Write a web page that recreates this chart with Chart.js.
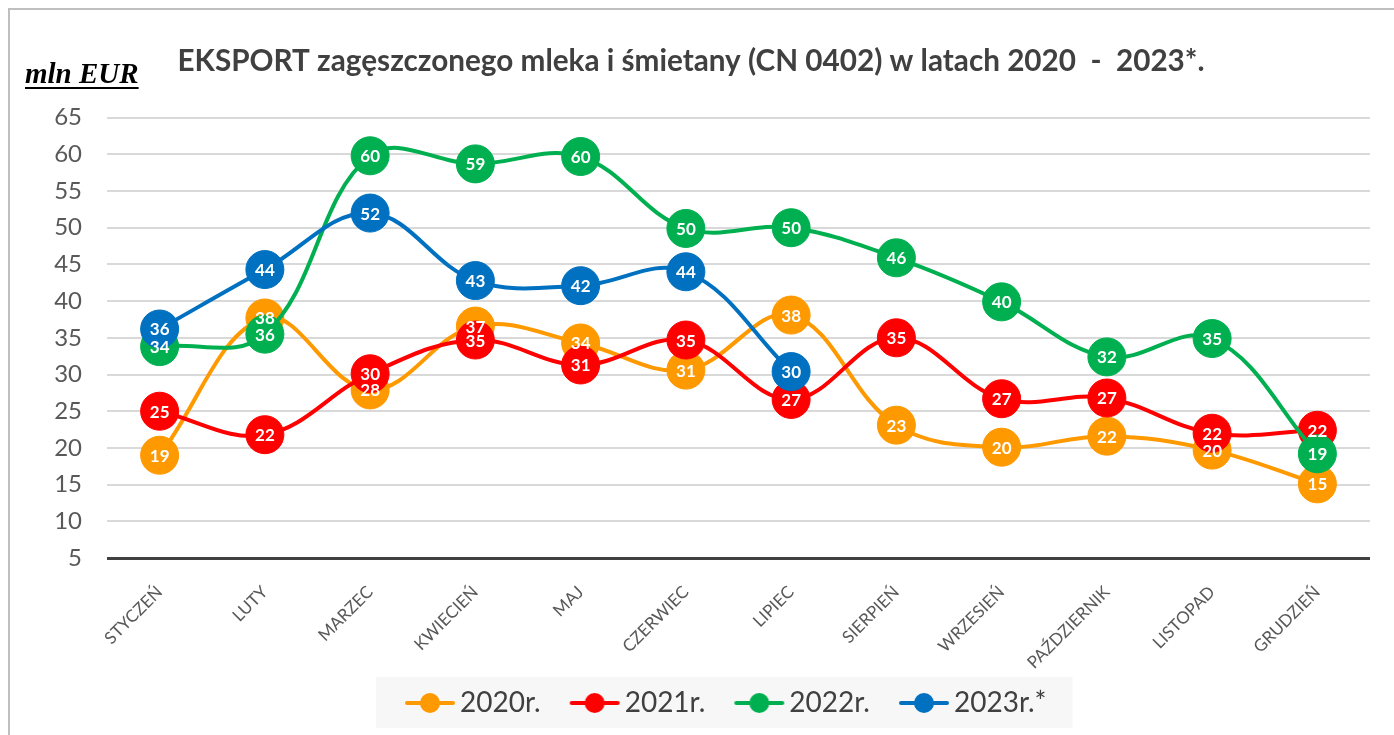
<!DOCTYPE html>
<html>
<head>
<meta charset="utf-8">
<script src="https://cdn.jsdelivr.net/npm/chart.js@4.4.1/dist/chart.umd.min.js"></script>
<style>
  html, body { margin: 0; padding: 0; background: #fff; }
  canvas { display: block; }
</style>
</head>
<body>
<canvas id="exportChart" width="1394" height="735"></canvas>
<script>
// months on the x axis
const months = ['STYCZEŃ', 'LUTY', 'MARZEC', 'KWIECIEŃ', 'MAJ', 'CZERWIEC', 'LIPIEC',
  'SIERPIEŃ', 'WRZESIEŃ', 'PAŹDZIERNIK', 'LISTOPAD', 'GRUDZIEŃ'];

// mln EUR
const exp2020 = [19.0, 37.7, 27.9, 36.6, 34.3, 30.6, 38.1, 23.1, 20.1, 21.6, 19.7, 15.1];
const exp2021 = [25.0, 21.8, 30.1, 34.7, 31.3, 34.7, 26.6, 35.0, 26.7, 26.8, 22.0, 22.4];
const exp2022 = [33.8, 35.5, 59.8, 58.7, 59.7, 49.9, 50.0, 45.9, 39.9, 32.4, 34.9, 19.2];
const exp2023 = [36.2, 44.3, 52.0, 42.8, 42.1, 44.0, 30.4, null, null, null, null, null];

const seriesNames = ['2020r.', '2021r.', '2022r.', '2023r.*'];
const seriesColors = ['#ff9900', '#ff0000', '#00b050', '#0070c0'];

const yMin = 5, yMax = 65, yStep = 5;

const FONT = 'Lato, "Open Sans", sans-serif';

// line + dot legend marker, drawn in the right part of a wider image
function legendMarker(color) {
  const c = document.createElement('canvas');
  c.width = 80; c.height = 22;
  const g = c.getContext('2d');
  g.strokeStyle = color;
  g.lineWidth = 4;
  g.lineCap = 'round';
  g.beginPath();
  g.moveTo(31, 11); g.lineTo(77, 11);
  g.stroke();
  g.fillStyle = color;
  g.beginPath();
  g.arc(54, 11, 10, 0, Math.PI * 2);
  g.fill();
  return c;
}

// white numbers inside the markers
const valueLabels = {
  id: 'valueLabels',
  afterDatasetsDraw(chart) {
    const ctx = chart.ctx;
    ctx.save();
    ctx.font = 'bold 17px ' + FONT;
    ctx.fillStyle = '#ffffff';
    ctx.textAlign = 'center';
    ctx.textBaseline = 'middle';
    chart.data.datasets.forEach((ds, i) => {
      chart.getDatasetMeta(i).data.forEach((pt, j) => {
        const v = ds.data[j];
        if (v == null) return;
        ctx.fillText(String(Math.round(v)), pt.x, pt.y + 1);
      });
    });
    ctx.restore();
  }
};

// frame, unit label and the grey legend panel
const decor = {
  id: 'decor',
  afterLayout(chart) {
    const lg = chart.legend;
    const pad = lg.options.labels.padding;
    const x0 = (lg.left + pad + lg.right - lg.lineWidths[0]) / 2;
    const shift = 386 - x0;
    lg.left += shift;
    lg.right += shift;
    chart.titleBlock.left += 6;
    chart.titleBlock.right += 6;
  },
  beforeDraw(chart) {
    const ctx = chart.ctx;
    ctx.save();
    ctx.fillStyle = '#ffffff';
    ctx.fillRect(0, 0, chart.width, chart.height);

    ctx.strokeStyle = '#bfbfbf';
    ctx.lineWidth = 2;
    ctx.beginPath();
    ctx.moveTo(9, chart.height);
    ctx.lineTo(9, 9);
    ctx.lineTo(chart.width, 9);
    ctx.stroke();

    // legend background
    const lg = chart.legend;
    const pad = lg.options.labels.padding;
    const lw = lg.lineWidths[0];
    const x0 = (lg.left + pad + lg.right - lw) / 2;
    ctx.fillStyle = '#f7f7f7';
    ctx.fillRect(x0 - 10, 677, lw + 26, 51);

    ctx.fillStyle = '#000000';
    ctx.font = 'italic bold 29px "Liberation Serif", serif';
    ctx.textBaseline = 'alphabetic';
    ctx.textAlign = 'left';
    ctx.fillText('mln EUR', 25, 83);
    const w = ctx.measureText('mln EUR').width;
    ctx.fillRect(25, 87, w, 2);
    ctx.restore();
  }
};

const ctx = document.getElementById('exportChart').getContext('2d');
const exportChart = new Chart(ctx, {
  type: 'line',
  data: {
    labels: months,
    datasets: [exp2020, exp2021, exp2022, exp2023].map((d, i) => ({
      label: seriesNames[i],
      data: d,
      borderColor: seriesColors[i],
      backgroundColor: seriesColors[i],
      pointBackgroundColor: seriesColors[i],
      pointBorderColor: seriesColors[i],
      borderWidth: 4,
      pointStyle: 'circle',
      pointRadius: 19,
      pointHoverRadius: 19,
      pointBorderWidth: 1,
      tension: 0.38,
      order: 4 - i,
      spanGaps: false
    }))
  },
  options: {
    responsive: false,
    animation: false,
    devicePixelRatio: 1,
    layout: { padding: { left: 0, right: 24, top: 0, bottom: 8 } },
    plugins: {
      title: {
        display: true,
        text: 'EKSPORT zagęszczonego mleka i śmietany (CN 0402) w latach 2020  -  2023*.',
        color: '#404040',
        font: { family: FONT, size: 29.7, weight: 'bold' },
        padding: { top: 44, bottom: 38 }
      },
      legend: {
        position: 'bottom',
        sort: (a, b) => a.datasetIndex - b.datasetIndex,
        labels: {
          usePointStyle: true,
          pointStyleWidth: 60,
          padding: 10,
          color: '#404040',
          font: { family: FONT, size: 28 },
          generateLabels(chart) {
            return chart.data.datasets.map((ds, i) => ({
              text: ds.label,
              datasetIndex: i,
              pointStyle: legendMarker(seriesColors[i]),
              fillStyle: seriesColors[i],
              strokeStyle: seriesColors[i],
              fontColor: '#404040',
              lineWidth: 0,
              hidden: false
            }));
          }
        }
      },
      tooltip: { enabled: false }
    },
    scales: {
      x: {
        offset: true,
        grid: { display: false },
        border: { display: false },
        ticks: {
          color: '#595959',
          font: { family: FONT, size: 17 },
          minRotation: 45,
          maxRotation: 45,
          padding: 16
        },
        afterFit(scale) { scale.height = 121; }
      },
      y: {
        min: yMin,
        max: yMax,
        border: { display: false },
        grid: {
          drawTicks: false,
          color: c => c.tick && c.tick.value === yMin ? '#404040' : '#d9d9d9',
          lineWidth: c => c.tick && c.tick.value === yMin ? 3 : 2
        },
        ticks: {
          stepSize: yStep,
          color: '#595959',
          font: { family: FONT, size: 24 },
          padding: 25
        },
        afterFit(scale) { scale.width = 107; }
      }
    }
  },
  plugins: [decor, valueLabels]
});
</script>
</body>
</html>
